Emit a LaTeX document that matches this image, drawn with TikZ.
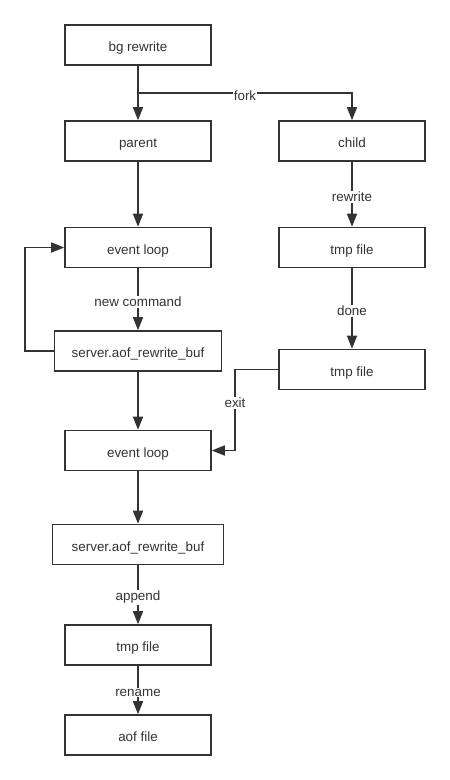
\documentclass[tikz,border=0pt]{standalone}
\usepackage{fontspec}
\setmainfont{Liberation Sans}
\usetikzlibrary{arrows.meta}
\definecolor{ink}{HTML}{333333}
\begin{document}
\begin{tikzpicture}[x=1pt,y=-1pt,
  box/.style={draw=ink,line width=1.6pt,minimum width=146pt,minimum height=40pt,inner sep=0pt,text=ink,text height=13.6pt,text depth=0pt,font=\fontsize{13.4}{15}\selectfont},
  wide/.style={box,minimum width=#1},
  conn/.style={draw=ink,line width=1.6pt,-{Triangle[length=13pt,width=10pt]}},
  lbl/.style={fill=white,text=ink,inner sep=1pt,yshift=-2.5pt,font=\fontsize{13.4}{15}\selectfont}]
\useasboundingbox[fill=white] (0,0) rectangle (450,780);
\node[box] (bg) at (138,45) {bg rewrite};
\node[box] (parent) at (138,141) {parent};
\node[box] (child) at (352,141) {child};
\node[box] (ev1) at (138,247.5) {event loop};
\node[box] (tmp1) at (352,247.5) {tmp file};
\node[wide=167pt] (buf1) at (138,351) {server.aof\_rewrite\_buf};
\node[box] (tmp2) at (352,369.5) {tmp file};
\node[box] (ev2) at (138,450.5) {event loop};
\node[wide=171pt] (buf2) at (138,544.5) {server.aof\_rewrite\_buf};
\node[box] (tmp3) at (138,645) {tmp file};
\node[box] (aof) at (138,735) {aof file};
\coordinate (f) at (138,93);
\coordinate (l1) at (25,351);
\coordinate (l2) at (25,247.5);
\coordinate (e1) at (235,369.5);
\coordinate (e2) at (235,450.5);
\draw[conn] (bg.south) -- (parent.north);
\draw[conn] (f) -| node[lbl,pos=0.25] {fork} (child.north);
\draw[conn] (parent.south) -- (ev1.north);
\draw[conn] (child.south) -- node[lbl] {rewrite} (tmp1.north);
\draw[conn] (ev1.south) -- node[lbl] {new command} (buf1.north);
\draw[conn] (buf1.west) -- (l1) -- (l2) -- (ev1.west);
\draw[conn] (tmp1.south) -- node[lbl] {done} (tmp2.north);
\draw[conn] (buf1.south) -- (ev2.north);
\draw[conn] (tmp2.west) -- (e1) -- node[lbl,pos=0.38] {exit} (e2) -- (ev2.east);
\draw[conn] (ev2.south) -- (buf2.north);
\draw[conn] (buf2.south) -- node[lbl] {append} (tmp3.north);
\draw[conn] (tmp3.south) -- node[lbl] {rename} (aof.north);
\end{tikzpicture}
\end{document}
